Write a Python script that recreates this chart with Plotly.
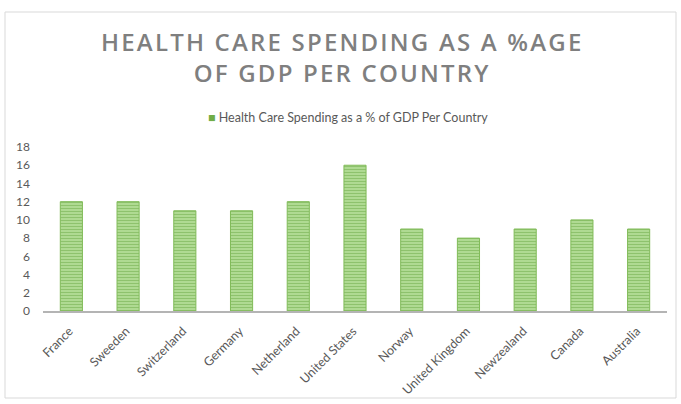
import plotly.graph_objects as go

countries = ["France", "Sweeden", "Switzerland", "Germany", "Netherland", "United States",
             "Norway", "United Kingdom", "Newzealand", "Canada", "Australia"]
spending = [12, 12, 11, 11, 12, 16, 9, 8, 9, 10, 9]
series_name = "Health Care Spending as a % of GDP Per Country"
title_lines = ["HEALTH CARE SPENDING AS A %AGE", "OF GDP PER COUNTRY"]
y_ticks = list(range(0, 19, 2))

W, H = 681, 404
ml, mr, mt, mb = 43, 14, 147, 93
pw = W - ml - mr
ph = H - mt - mb

GREEN = "#70ad47"

fig = go.Figure()
fig.add_trace(go.Bar(
    x=countries, y=spending, name=series_name, showlegend=False,
    marker=dict(
        color="#a9d18e",
        line=dict(color="#80bb58", width=1),
        pattern=dict(shape="-", fgcolor="#6aa843", bgcolor="#b2dc96", size=3, solidity=0.4),
    ),
))

def px_x(v):
    return (v - ml) / pw

def px_y(v):
    return (H - mb - v) / ph

fig.add_shape(type="rect", xref="paper", yref="paper",
              x0=px_x(5), x1=px_x(676), y0=px_y(398), y1=px_y(12),
              line=dict(color="#d9d9d9", width=1), fillcolor="rgba(0,0,0,0)", layer="below")

# title
fig.add_annotation(text="<br>".join(title_lines), xref="paper", yref="paper",
                   x=px_x(342), y=px_y(57), xanchor="center", yanchor="middle",
                   showarrow=False, align="center",
                   font=dict(family="Open Sans", size=24, color="#7f7f7f", weight=600))
# legend (series name with its colour key)
fig.add_annotation(text=f"<span style='color:{GREEN}'>■</span> {series_name}",
                   xref="paper", yref="paper", x=px_x(348), y=px_y(117),
                   xanchor="center", yanchor="middle", showarrow=False,
                   font=dict(family="Lato", size=12.5, color="#595959"))

fig.update_layout(
    width=W, height=H,
    margin=dict(l=ml, r=mr, t=mt, b=mb),
    paper_bgcolor="white", plot_bgcolor="white",
    showlegend=False,
    bargap=0.61,
    font=dict(family="Lato", size=12, color="#595959"),
)
fig.update_xaxes(tickangle=-45, showline=True, linecolor="#b4b4b4", linewidth=2,
                 showgrid=False, ticks="", tickfont=dict(size=12.5, color="#595959"),
                 ticklabelshift=-2, ticklabelstandoff=6, automargin=False)
fig.update_yaxes(range=[0, 18], tickvals=y_ticks, showgrid=False, zeroline=False,
                 showline=False, ticks="", tickfont=dict(size=12, color="#595959"),
                 ticklabelstandoff=12, automargin=False)

post = """
var ann = document.querySelectorAll('.annotation-text');
if (ann.length) { ann[0].style.letterSpacing = '2.2px'; }
"""
fig.write_html("out.html", post_script=post)
